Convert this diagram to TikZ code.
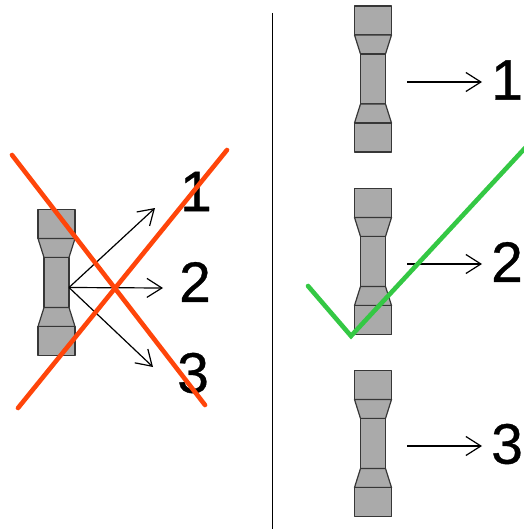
\documentclass[tikz,border=0pt]{standalone}
\usepackage{fontspec}
\setmainfont[FakeBold=0.6]{Liberation Sans}
\usetikzlibrary{arrows.meta}
\definecolor{specfill}{RGB}{170,170,170}
\definecolor{specline}{RGB}{55,55,55}
\definecolor{crossred}{RGB}{255,69,10}
\definecolor{tickgreen}{RGB}{52,200,68}
\tikzset{
  specimen/.style={draw=specline,fill=specfill,line width=1.2pt,line join=round},
  lead/.style={draw=black,line width=1.2pt,-{Straight Barb[length=15pt,width=19pt,line width=1.2pt]}},
  digit/.style={font=\fontsize{57}{57}\selectfont,inner sep=0pt,text=black},
  crossline/.style={draw=crossred,line width=4.6pt,line cap=round},
  tickline/.style={draw=tickgreen,line width=4.6pt,line cap=round,line join=miter}
}
\newcommand{\testpiece}[3]{%
  \begin{scope}[shift={(#1,#2)}]
    \draw[specimen] (-18.5,0) rectangle (18.5,29);
    \draw[specimen] (-18.5,29) -- (18.5,29) -- (12.5,48) -- (-12.5,48) -- cycle;
    \draw[specimen] (-12.5,48) rectangle (12.5,98);
    \draw[specimen] (-12.5,98) -- (12.5,98) -- (18.5,117) -- (-18.5,117) -- cycle;
    \draw[specimen] (-18.5,117) rectangle (18.5,146);
    \coordinate (#3) at (12.5,78);
  \end{scope}}
\begin{document}
\begin{tikzpicture}[x=1pt,y=-1pt]
\useasboundingbox (0,0) rectangle (523,529);
% divider
\coordinate (divtop) at (272,13);
\coordinate (divbot) at (272,529);
\draw[black,line width=1pt] (divtop) -- (divbot);
% left
\testpiece{56.5}{209.5}{src}
\node[digit] (l1) at (196,191.5) {1};
\node[digit] (l2) at (195,282) {2};
\node[digit] (l3) at (193,373) {3};
\coordinate (t1) at (155,208);
\coordinate (t2) at (163,288);
\coordinate (t3) at (153,367);
\draw[lead] (src) -- (t1);
\draw[lead] (src) -- (t2);
\draw[lead] (src) -- (t3);
\coordinate (xa) at (12,155);
\coordinate (xb) at (205,405);
\coordinate (xc) at (18,408);
\coordinate (xd) at (227,150);
\draw[crossline] (xa) -- (xb);
\draw[crossline] (xc) -- (xd);
% right
\testpiece{373}{6}{ra}
\testpiece{373}{188.5}{rb}
\testpiece{373}{370.5}{rc}
\coordinate (s1) at (407,82);
\coordinate (e1) at (482,82);
\coordinate (s2) at (407,264);
\coordinate (e2) at (482,264);
\coordinate (s3) at (407,446);
\coordinate (e3) at (482,446);
\draw[lead] (s1) -- (e1);
\draw[lead] (s2) -- (e2);
\draw[lead] (s3) -- (e3);
\node[digit] (r1) at (507,80) {1};
\node[digit] (r2) at (507,262) {2};
\node[digit] (r3) at (507,444) {3};
\coordinate (ga) at (308,286);
\coordinate (gb) at (351,336);
\coordinate (gc) at (526,147);
\draw[tickline] (ga) -- (gb) -- (gc);
\end{tikzpicture}
\end{document}
